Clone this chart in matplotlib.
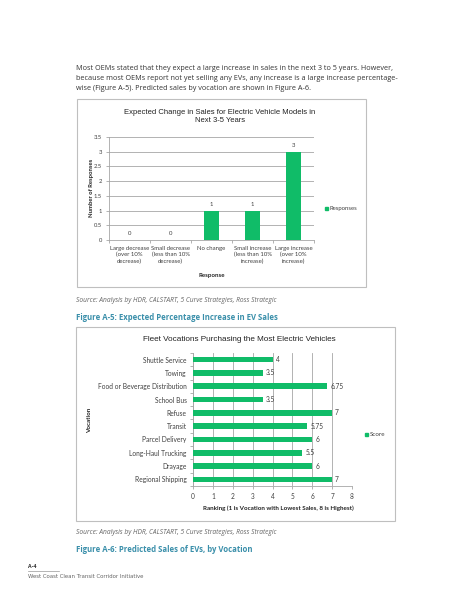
import matplotlib
matplotlib.use("Agg")
import matplotlib.pyplot as plt
from matplotlib.patches import Rectangle
from matplotlib.lines import Line2D

W, H = 463, 599

# ---- data ----
resp_categories = ["Large decrease\n(over 10%\ndecrease)", "Small decrease\n(less than 10%\ndecrease)",
                   "No change", "Small increase\n(less than 10%\nincrease)", "Large increase\n(over 10%\nincrease)"]
resp_values = [0, 0, 1, 1, 3]
resp_yticks = [0, 0.5, 1, 1.5, 2, 2.5, 3, 3.5]
resp_yticklabels = ["0", "0.5", "1", "1.5", "2", "2.5", "3", "3.5"]

voc_categories = ["Shuttle Service", "Towing", "Food or Beverage Distribution", "School Bus", "Refuse",
                  "Transit", "Parcel Delivery", "Long-Haul Trucking", "Drayage", "Regional Shipping"]
voc_values = [4, 3.5, 6.75, 3.5, 7, 5.75, 6, 5.5, 6, 7]
voc_xticks = [0, 1, 2, 3, 4, 5, 6, 7, 8]

GREEN = "#10BC68"
GRID = "#A6A6A6"
BOX = "#BFBFBF"
TEAL = "#3A8FAA"
TXT = "#404040"

fig = plt.figure(figsize=(W / 100, H / 100), dpi=100)

def fx(x):
    return x / W

def fy(y):
    return 1 - y / H

def ptext(x, y, s, **kw):
    fig.text(fx(x), fy(y), s, **kw)

# ---- page text ----
para = ["Most OEMs stated that they expect a large increase in sales in the next 3 to 5 years. However,",
        "because most OEMs report not yet selling any EVs, any increase is a large increase percentage-",
        "wise (Figure A-5). Predicted sales by vocation are shown in Figure A-6."]
for i, line in enumerate(para):
    ptext(76, 69 + i * 10, line, fontsize=5.2, family="Open Sans", color="#333333", va="center", ha="left")

src = "Source: Analysis by HDR, CALSTART, 5 Curve Strategies, Ross Strategic"
ptext(76, 301, src, fontsize=4.8, family="Open Sans", style="italic", color="#666666", va="center")
ptext(76, 318, "Figure A-5: Expected Percentage Increase in EV Sales", fontsize=5.6, family="Open Sans",
      weight="bold", color=TEAL, va="center")
ptext(76, 532, src, fontsize=4.8, family="Open Sans", style="italic", color="#666666", va="center")
ptext(76, 549, "Figure A-6: Predicted Sales of EVs, by Vocation", fontsize=5.6, family="Open Sans",
      weight="bold", color=TEAL, va="center")

ptext(28, 566, "A-4", fontsize=3.8, family="Open Sans", weight="bold", color="#333333", va="center")
fig.add_artist(Line2D([fx(28), fx(59)], [fy(570.5), fy(570.5)], color="#999999", lw=0.5,
                      transform=fig.transFigure))
ptext(28, 576.5, "West Coast Clean Transit Corridor Initiative", fontsize=3.9, family="Liberation Sans Narrow",
      color="#666666", va="center")

# ---- boxes ----
for (x0, y0, x1, y1) in [(77, 99, 366, 287), (76, 327, 395, 521)]:
    fig.add_artist(Rectangle((fx(x0), fy(y1)), fx(x1) - fx(x0), fy(y0) - fy(y1), fill=False,
                             edgecolor=BOX, lw=0.8, transform=fig.transFigure))

# ---- chart 1 ----
ax1 = fig.add_axes([fx(109), fy(240), fx(314) - fx(109), fy(137) - fy(240)])
xs = list(range(len(resp_values)))
ax1.bar(xs, resp_values, width=0.39, color=GREEN, zorder=3)
ax1.set_xlim(-0.5, len(resp_values) - 0.5)
ax1.set_ylim(0, 3.5)
ax1.set_yticks(resp_yticks)
ax1.set_yticklabels(resp_yticklabels)
ax1.yaxis.grid(True, color=GRID, lw=0.6, zorder=0)
ax1.set_xticks([i - 0.5 for i in range(len(resp_values) + 1)], minor=False)
ax1.set_xticklabels([""] * (len(resp_values) + 1))
for i, lab in enumerate(resp_categories):
    ax1.text(i, -0.2, lab, ha="center", va="top", fontsize=4.3, family="Lato", color=TXT,
             linespacing=1.25)
for s in ["top", "right"]:
    ax1.spines[s].set_visible(False)
ax1.spines["left"].set_color(GRID)
ax1.spines["bottom"].set_color(GRID)
ax1.spines["left"].set_linewidth(0.6)
ax1.spines["bottom"].set_linewidth(0.6)
ax1.tick_params(axis="y", length=2, width=0.6, color=GRID, labelsize=4.2, pad=3, labelcolor=TXT)
ax1.tick_params(axis="x", length=2, width=0.6, color=GRID, direction="out")
for lab in ax1.get_yticklabels():
    lab.set_family("Lato")
for i, v in enumerate(resp_values):
    ax1.text(i, v + 0.12, f"{v:g}", ha="center", va="bottom", fontsize=4.3, family="Lato", color=TXT)
ax1.set_facecolor("none")

ptext(220, 112, "Expected Change in Sales for Electric Vehicle Models in", fontsize=5.5,
      family="Liberation Sans", color="#222222", ha="center", va="center")
ptext(220, 121, "Next 3-5 Years", fontsize=5.5, family="Liberation Sans", color="#222222",
      ha="center", va="center")
ptext(91, 188, "Number of Responses", fontsize=4.2, family="Lato", weight="bold", color="#222222",
      rotation=90, ha="center", va="center")
ptext(212, 276, "Response", fontsize=4.4, family="Lato", weight="bold", color="#222222",
      ha="center", va="center")
fig.add_artist(Rectangle((fx(325), fy(210)), fx(3.2), 3.2 / H, color=GREEN, transform=fig.transFigure))
ptext(329.5, 208.3, "Responses", fontsize=4.3, family="Lato", color=TXT, va="center")

# ---- chart 2 ----
ax2 = fig.add_axes([fx(193), fy(486), fx(352) - fx(193), fy(353) - fy(486)])
ys = list(range(len(voc_values)))[::-1]
ax2.barh(ys, voc_values, height=0.42, color=GREEN, zorder=3)
ax2.set_xlim(0, 8)
ax2.set_ylim(-0.5, len(voc_values) - 0.5)
ax2.set_xticks(voc_xticks)
ax2.xaxis.grid(True, color=GRID, lw=0.6, zorder=0)
ax2.set_yticks(ys)
ax2.set_yticklabels(voc_categories)
ax2.set_yticks([i - 0.5 for i in range(len(voc_values) + 1)], minor=True)
ax2.tick_params(axis="y", which="major", length=0, labelsize=4.8, pad=4.5, labelcolor=TXT)
ax2.tick_params(axis="y", which="minor", length=2, width=0.6, color=GRID)
ax2.tick_params(axis="x", length=2, width=0.6, color=GRID, labelsize=4.7, pad=3, labelcolor=TXT)
for lab in ax2.get_yticklabels() + ax2.get_xticklabels():
    lab.set_family("Lato")
for s in ["top", "right"]:
    ax2.spines[s].set_visible(False)
ax2.spines["left"].set_color(GRID)
ax2.spines["bottom"].set_color(GRID)
ax2.spines["left"].set_linewidth(0.6)
ax2.spines["bottom"].set_linewidth(0.6)
for y, v in zip(ys, voc_values):
    ax2.text(v + 0.15, y, f"{v:g}", ha="left", va="center", fontsize=4.8, family="Lato", color=TXT)
ax2.set_facecolor("none")

ptext(239, 340, "Fleet Vocations Purchasing the Most Electric Vehicles", fontsize=5.9,
      family="Liberation Sans", color="#222222", ha="center", va="center")
ptext(90, 420, "Vocation", fontsize=4.5, family="Lato", weight="bold", color="#222222",
      rotation=90, ha="center", va="center")
ptext(278, 508, "Ranking (1 is Vocation with Lowest Sales, 8 is Highest)", fontsize=4.5, family="Lato",
      weight="bold", color="#222222", ha="center", va="center")
fig.add_artist(Rectangle((fx(365), fy(435.8)), fx(3.2), 3.2 / H, color=GREEN, transform=fig.transFigure))
ptext(369.5, 434.2, "Score", fontsize=4.5, family="Lato", color=TXT, va="center")

fig.savefig("out.png", dpi=100)
